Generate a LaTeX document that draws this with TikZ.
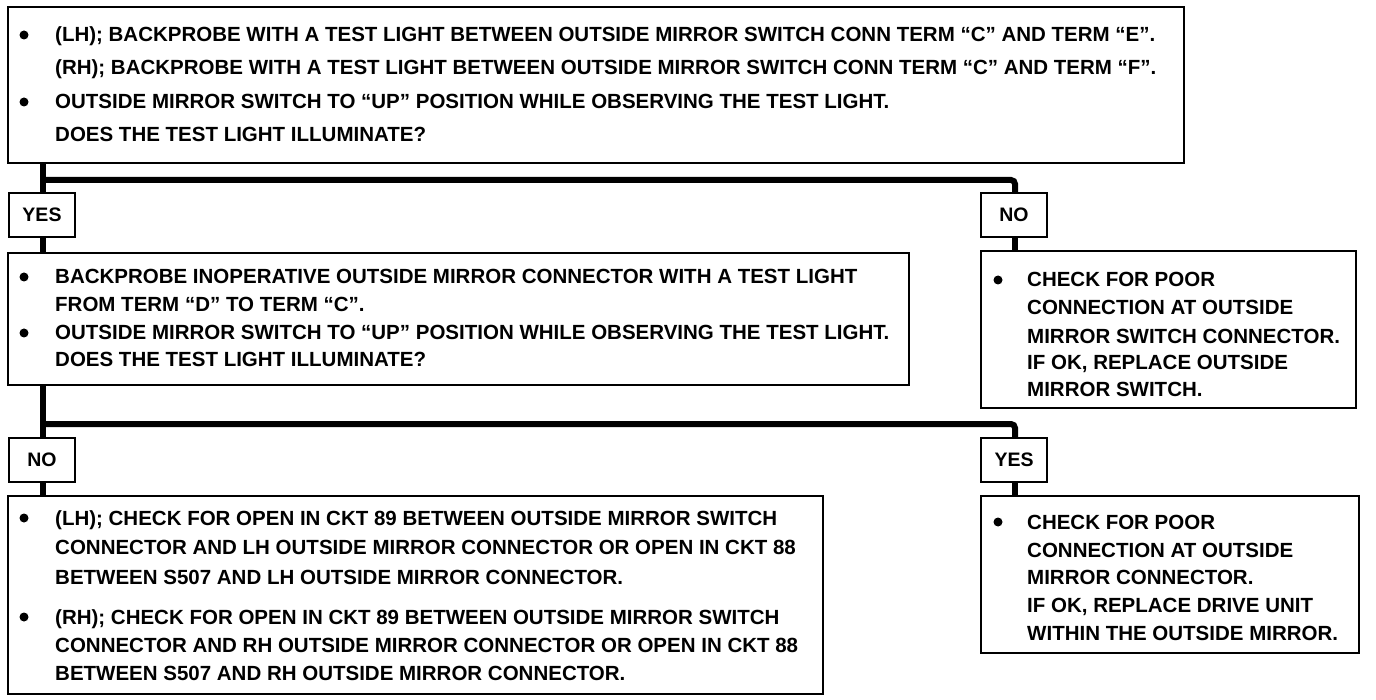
\documentclass[tikz,border=0pt]{standalone}
\usepackage{fontspec}
\setmainfont{Liberation Sans}
\begin{document}
\begin{tikzpicture}[x=1pt,y=-1pt,
  box/.style={draw, line width=2pt, anchor=north west, inner sep=0pt},
  lbl/.style={draw, line width=2pt, minimum width=66pt, minimum height=44pt, inner sep=0pt, font=\bfseries\fontsize{19.5}{22}\selectfont},
  txt/.style={anchor=base west, inner sep=0pt, font=\bfseries\fontsize{20.5}{24}\selectfont},
  bul/.style={circle, fill=black, inner sep=0pt, minimum size=9pt},
  trunk/.style={line width=6pt}]
\useasboundingbox (0,0) rectangle (1376,700);
% boxes
\node[box, minimum width=1176pt, minimum height=156pt] (q1) at (7,6) {};
\node[box, minimum width=901pt, minimum height=132pt] (q2) at (7,252) {};
\node[box, minimum width=375pt, minimum height=157pt] (r1) at (980,250) {};
\node[box, minimum width=815pt, minimum height=198pt] (q3) at (7,495) {};
\node[box, minimum width=378pt, minimum height=157pt] (r2) at (980,495) {};
% labels
\node[lbl] (yes1) at (42,215) {YES};
\node[lbl] (no1) at (1014,215) {NO};
\node[lbl] (no2) at (42,460) {NO};
\node[lbl] (yes2) at (1014,460) {YES};
% junctions
\coordinate (j1) at (43,180);
\coordinate (j1r) at (1015,180);
\coordinate (j2) at (43,424);
\coordinate (j2r) at (1015,424);
% connectors
\draw[trunk] (q1.south -| j1) -- (yes1.north -| j1);
\draw[trunk, rounded corners=4pt] (j1) -- (j1r) -- (no1.north -| j1r);
\draw[trunk] (yes1.south -| j1) -- (q2.north -| j1);
\draw[trunk] (no1.south -| j1r) -- (r1.north -| j1r);
\draw[trunk] (q2.south -| j2) -- (no2.north -| j2);
\draw[trunk, rounded corners=4pt] (j2) -- (j2r) -- (yes2.north -| j2r);
\draw[trunk] (no2.south -| j2) -- (q3.north -| j2);
\draw[trunk] (yes2.south -| j2r) -- (r2.north -| j2r);
% top box text
\node[bul] (b1) at (24,35) {};
\node[txt] (t1) at (55,42) {(LH); BACKPROBE WITH A TEST LIGHT BETWEEN OUTSIDE MIRROR SWITCH CONN TERM “C” AND TERM “E”.};
\node[txt] (t2) at (55,75) {(RH); BACKPROBE WITH A TEST LIGHT BETWEEN OUTSIDE MIRROR SWITCH CONN TERM “C” AND TERM “F”.};
\node[bul] (b2) at (24,102) {};
\node[txt] (t3) at (55,109) {OUTSIDE MIRROR SWITCH TO “UP” POSITION WHILE OBSERVING THE TEST LIGHT.};
\node[txt] (t4) at (55,142) {DOES THE TEST LIGHT ILLUMINATE?};
% middle box text
\node[bul] (b3) at (24,277) {};
\node[txt] (m1) at (55,284) {BACKPROBE INOPERATIVE OUTSIDE MIRROR CONNECTOR WITH A TEST LIGHT};
\node[txt] (m2) at (55,312) {FROM TERM “D” TO TERM “C”.};
\node[bul] (b4) at (24,333) {};
\node[txt] (m3) at (55,340) {OUTSIDE MIRROR SWITCH TO “UP” POSITION WHILE OBSERVING THE TEST LIGHT.};
\node[txt] (m4) at (55,367) {DOES THE TEST LIGHT ILLUMINATE?};
% right box 1
\node[bul] (b5) at (998,280) {};
\node[txt] (r1a) at (1027,287) {CHECK FOR POOR};
\node[txt] (r1b) at (1027,315) {CONNECTION AT OUTSIDE};
\node[txt] (r1c) at (1027,344) {MIRROR SWITCH CONNECTOR.};
\node[txt] (r1d) at (1027,370) {IF OK, REPLACE OUTSIDE};
\node[txt] (r1e) at (1027,397) {MIRROR SWITCH.};
% bottom left box
\node[bul] (b6) at (24,518) {};
\node[txt] (l1) at (55,525) {(LH); CHECK FOR OPEN IN CKT 89 BETWEEN OUTSIDE MIRROR SWITCH};
\node[txt] (l2) at (55,554) {CONNECTOR AND LH OUTSIDE MIRROR CONNECTOR OR OPEN IN CKT 88};
\node[txt] (l3) at (55,584) {BETWEEN S507 AND LH OUTSIDE MIRROR CONNECTOR.};
\node[bul] (b7) at (24,617) {};
\node[txt] (l4) at (55,624) {(RH); CHECK FOR OPEN IN CKT 89 BETWEEN OUTSIDE MIRROR SWITCH};
\node[txt] (l5) at (55,652) {CONNECTOR AND RH OUTSIDE MIRROR CONNECTOR OR OPEN IN CKT 88};
\node[txt] (l6) at (55,680) {BETWEEN S507 AND RH OUTSIDE MIRROR CONNECTOR.};
% bottom right box
\node[bul] (b8) at (998,522) {};
\node[txt] (r2a) at (1027,529) {CHECK FOR POOR};
\node[txt] (r2b) at (1027,557) {CONNECTION AT OUTSIDE};
\node[txt] (r2c) at (1027,584) {MIRROR CONNECTOR.};
\node[txt] (r2d) at (1027,612) {IF OK, REPLACE DRIVE UNIT};
\node[txt] (r2e) at (1027,640) {WITHIN THE OUTSIDE MIRROR.};
\end{tikzpicture}
\end{document}
